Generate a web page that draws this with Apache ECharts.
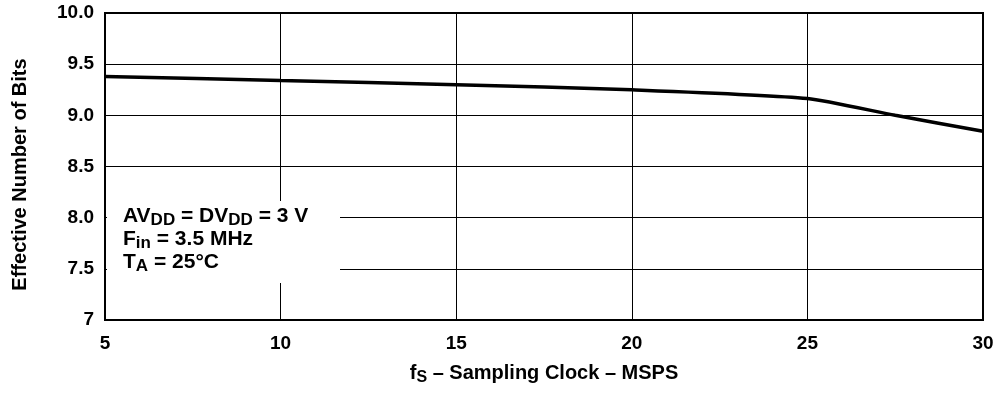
<!DOCTYPE html>
<html>
<head>
<meta charset="utf-8">
<script src="https://cdn.jsdelivr.net/npm/echarts@6/dist/echarts.min.js"></script>
<style>
  html, body { margin: 0; padding: 0; background: #fff; }
  #chart { width: 997px; height: 407px; }
</style>
</head>
<body>
<div id="chart"></div>
<script>
const fsValues = [5, 10, 15, 20, 25, 27.5, 30];
const enobValues = [9.38, 9.34, 9.3, 9.25, 9.165, 9.0, 8.845];
const yTicks = [7, 7.5, 8, 8.5, 9, 9.5, 10];
const xTicks = [5, 10, 15, 20, 25, 30];

const font = '"Liberation Sans", Arial, sans-serif';
const chart = echarts.init(document.getElementById('chart'));

const option = {
  animation: false,
  backgroundColor: '#fff',
  grid: {
    left: 105, right: 14, top: 13, bottom: 87,
    outerBoundsMode: 'none',
    show: true, borderColor: '#000', borderWidth: 2, backgroundColor: 'transparent'
  },
  xAxis: {
    type: 'value',
    min: 5,
    max: 30,
    interval: 5,
    name: '{i|f}{sub|S}{i| – Sampling Clock – MSPS}',
    nameLocation: 'middle',
    nameGap: 40,
    nameTextStyle: {
      rich: {
        i: { fontFamily: font, fontWeight: 'bold', fontSize: 20, color: '#000' },
        sub: { fontFamily: font, fontWeight: 'bold', fontSize: 16, color: '#000', padding: [10, 0, 0, 0] }
      }
    },
    axisLine: { show: true, lineStyle: { color: '#000', width: 2 } },
    axisTick: { show: false },
    splitLine: { show: true, lineStyle: { color: '#000', width: 1 } },
    axisLabel: {
      color: '#000', fontFamily: font, fontWeight: 'bold', fontSize: 19, margin: 14,
      formatter: v => xTicks.includes(v) ? String(v) : ''
    }
  },
  yAxis: {
    type: 'value',
    min: 7,
    max: 10,
    interval: 0.5,
    name: 'Effective Number of Bits',
    nameLocation: 'middle',
    nameGap: 75,
    nameTextStyle: {
      color: '#000', fontFamily: font, fontWeight: 'bold', fontSize: 20,
      padding: [0, 16, 0, 0]
    },
    axisLine: { show: true, lineStyle: { color: '#000', width: 2 } },
    axisTick: { show: false },
    splitLine: { show: true, lineStyle: { color: '#000', width: 1 } },
    axisLabel: {
      color: '#000', fontFamily: font, fontWeight: 'bold', fontSize: 19, margin: 11,
      formatter: v => yTicks.includes(v) ? (v === 7 ? '7' : v.toFixed(1)) : ''
    }
  },
  series: [{
    type: 'line',
    data: fsValues.map((x, i) => [x, enobValues[i]]),
    smooth: 0.2,
    symbol: 'none',
    lineStyle: { color: '#000', width: 3.5 },
    z: 5
  }],
  graphic: [
    {
      type: 'rect', z: 10,
      shape: { x: 107, y: 201, width: 233, height: 82 },
      style: { fill: '#fff' }
    },
    {
      type: 'text', z: 11, left: 123, top: 203,
      style: {
        text: '{t|AV}{s|DD}{t| = DV}{s|DD}{t| = 3 V}\n{t|F}{s|in}{t| = 3.5 MHz}\n{t|T}{s|A}{t| = 25°C}',
        rich: {
          t: { fontFamily: font, fontWeight: 'bold', fontSize: 21, color: '#000', lineHeight: 23 },
          s: { fontFamily: font, fontWeight: 'bold', fontSize: 17, color: '#000', lineHeight: 23, padding: [9, 0, 0, 0] }
        }
      }
    }
  ]
};

chart.setOption(option);
</script>
</body>
</html>
